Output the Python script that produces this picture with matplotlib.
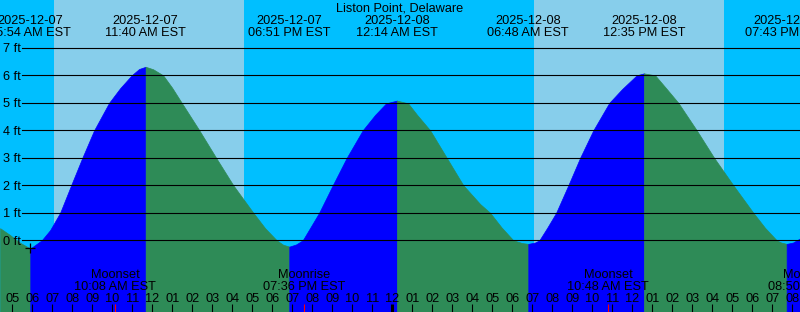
import numpy as np
import matplotlib.pyplot as plt
import matplotlib.transforms as mtransforms

plt.rcParams['font.family'] = ['Liberation Sans', 'DejaVu Sans']

title = 'Liston Point, Delaware'

# high / low tide events, hours counted from 2025-12-07 00:00 EST
event_hours = [5.90, 11.667, 18.85, 24.233, 30.80, 36.583, 43.717]
event_ft = [-0.30, 6.31, -0.23, 5.08, -0.13, 6.07, -0.13]
event_high = [False, True, False, True, False, True, False]
event_date = ['2025-12-07', '2025-12-07', '2025-12-07', '2025-12-08',
              '2025-12-08', '2025-12-08', '2025-12-08']
event_time = ['05:54 AM EST', '11:40 AM EST', '06:51 PM EST', '12:14 AM EST',
              '06:48 AM EST', '12:35 PM EST', '07:43 PM EST']

# water level (hours, ft)
curve_hours = [4.39, 4.89, 5.39, 5.90, 6.47, 6.89, 7.39, 7.94, 8.50, 9.09,
               9.84, 10.39, 10.97, 11.34, 11.667, 12.04, 12.54, 12.99, 13.47,
               14.35, 15.19, 16.05, 17.05, 17.64, 18.22, 18.54, 18.85, 19.19,
               19.52, 19.89, 20.34, 21.02, 21.72, 22.52, 23.14, 23.69, 24.233,
               24.79, 25.24, 25.89, 26.72, 27.55, 28.39, 28.89, 29.46, 30.05,
               30.49, 30.80, 31.14, 31.35, 31.74, 32.19, 32.80, 33.39, 34.05,
               34.85, 35.49, 36.22, 36.583, 37.14, 37.69, 38.30, 39.22, 40.09,
               41.05, 42.05, 42.64, 43.22, 43.44, 43.717, 44.04, 44.39]
curve_ft = [0.44, 0.19, -0.09, -0.30, 0.00, 0.37, 1.00, 2.00, 3.00, 4.00,
            5.00, 5.53, 6.00, 6.23, 6.31, 6.22, 6.00, 5.55, 5.00,
            4.00, 3.00, 2.00, 1.00, 0.44, 0.00, -0.16, -0.23, -0.15,
            0.00, 0.45, 1.00, 2.00, 3.00, 4.00, 4.56, 4.98, 5.08,
            4.98, 4.56, 4.00, 3.00, 2.00, 1.32, 1.00, 0.47, 0.00,
            -0.10, -0.13, -0.08, 0.00, 0.45, 1.00, 2.00, 3.00, 4.00,
            5.00, 5.50, 6.00, 6.07, 6.00, 5.53, 5.00, 4.00, 3.00,
            2.00, 1.00, 0.45, 0.00, -0.08, -0.13, -0.08, 0.07]

# moon events
moon_hours = [10.133, 19.60, 34.80, 44.833]
moon_name = ['Moonset', 'Moonrise', 'Moonset', 'Moonrise']
moon_time = ['10:08 AM EST', '07:36 PM EST', '10:48 AM EST', '08:50 PM EST']

# daylight
sun_rise = [7.085, 31.085]
sun_set = [16.585, 40.585]

# "+" mark
mark_hours = 5.885
mark_ft = -0.28

hours = list(range(5, 45))
hour_labels = ['%02d' % ((h - 1) % 12 + 1) for h in hours]
levels = list(range(0, 8))

t0, t1 = 4.385, 44.385
ybot, ytop = -2.607, 8.738

fig = plt.figure(figsize=(8, 3.12), dpi=100)
ax = fig.add_axes([0, 0, 1, 1])
ax.set_xlim(t0, t1)
ax.set_ylim(ybot, ytop)
ax.axis('off')

def py(ypx):
    ## pixel row from the top -> figure fraction
    return 1 - ypx / 312.0

xfig_ydata = mtransforms.blended_transform_factory(fig.transFigure, ax.transData)
xdata_yfig = mtransforms.blended_transform_factory(ax.transData, fig.transFigure)

## night / day background
ax.axvspan(t0, t1, color='#00BFFF', lw=0, zorder=0)
for a, b in zip(sun_rise, sun_set):
    ax.axvspan(a, b, color='#87CEEB', lw=0, zorder=0)

## water below the curve: blue while rising, green while falling
t = np.array(curve_hours)
h = np.array(curve_ft)
bounds = [t[0]] + event_hours + [t[-1]]
for i in range(len(bounds) - 1):
    m = (t >= bounds[i] - 1e-6) & (t <= bounds[i + 1] + 1e-6)
    if i < len(event_high):
        rising = event_high[i]
    else:
        rising = not event_high[-1]
    c = '#0000FF' if rising else '#2E8B57'
    ax.fill_between(t[m], h[m], ybot, color=c, lw=0.5, zorder=1)

## level lines and labels
for lv in levels:
    ax.axhline(lv, xmin=22 / 800.0, xmax=1, color='black', lw=0.8, zorder=2)
    ax.text(3 / 800.0, lv - 0.16, '%d ft' % lv, transform=xfig_ydata,
            fontsize=9.2, ha='left', va='baseline', zorder=3)

ax.plot(mark_hours, mark_ft, marker='+', color='black', ms=7, mew=0.9, zorder=3)

## title and tide event labels
fig.text(0.5, py(11.7), title, fontsize=9.2, ha='center', va='baseline')
for x, d, s in zip(event_hours, event_date, event_time):
    ax.text(x, py(24.3), d, transform=xdata_yfig, fontsize=9.2,
            ha='center', va='baseline', clip_on=False)
    ax.text(x, py(36), s, transform=xdata_yfig, fontsize=9.2,
            ha='center', va='baseline', clip_on=False)

## moon labels
for x, n, s in zip(moon_hours, moon_name, moon_time):
    ax.text(x, py(278.3), n, transform=xdata_yfig, fontsize=9.2,
            ha='center', va='baseline')
    ax.text(x, py(290), s, transform=xdata_yfig, fontsize=9.2,
            ha='center', va='baseline')
    ax.vlines(x, py(312), py(303.5), transform=xdata_yfig, color='red', lw=0.8, zorder=3)

## hour ticks
for hr, lab in zip(hours, hour_labels):
    lw = 2.2 if hr == 24 else 0.8
    ax.vlines(hr, py(312), py(304), transform=xdata_yfig, color='black', lw=lw, zorder=3)
    ax.text(hr, py(302), lab, transform=xdata_yfig, fontsize=9.2,
            ha='center', va='baseline', zorder=3)

plt.savefig('out.png', dpi=100)
